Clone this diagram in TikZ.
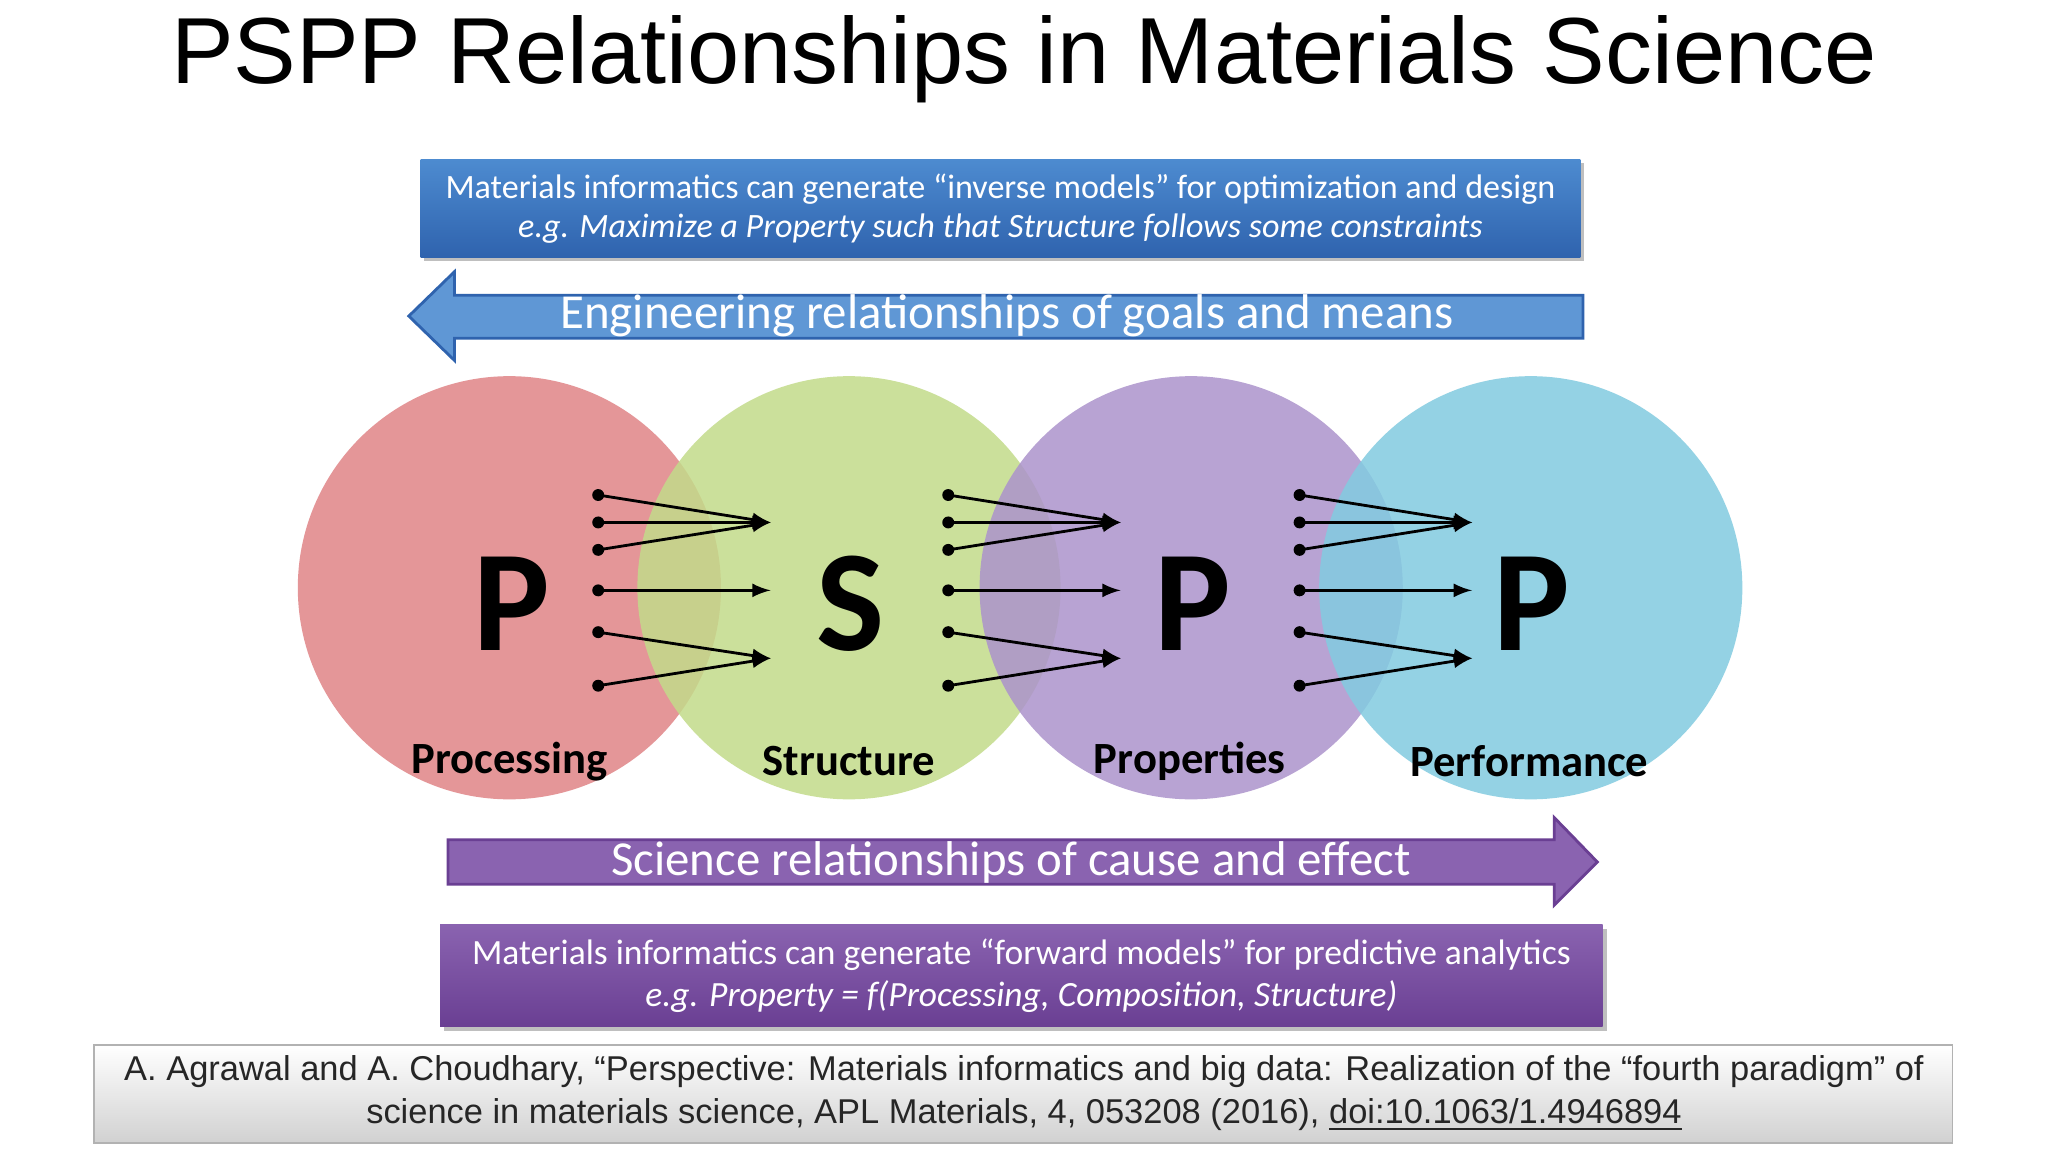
\documentclass[tikz,border=0pt]{standalone}
\usepackage{fontspec}
\setmainfont{Liberation Sans}
\newfontfamily\carfont{Carlito}
\usetikzlibrary{shapes.arrows,shadows}
\definecolor{bA}{HTML}{2F63AE}
\definecolor{bB}{HTML}{4D8BD0}
\definecolor{pA}{HTML}{6A3F93}
\definecolor{pB}{HTML}{8A63B0}
\definecolor{cR}{HTML}{E08486}
\definecolor{cG}{HTML}{C3DB8A}
\definecolor{cP}{HTML}{AC93CC}
\definecolor{cB}{HTML}{82CBE0}
\begin{document}
\begin{tikzpicture}[x=0.013061cm,y=-0.013061cm,
  txt/.style={text=white,font=\carfont\fontsize{9.7}{12}\selectfont,align=center},
  txtb/.style={text=white,font=\carfont\fontsize{10.1}{12}\selectfont,align=center},
  circ/.style={circle,minimum size=324*0.013061cm,inner sep=0,opacity=0.85},
  big/.style={font=\carfont\bfseries\fontsize{41}{43}\selectfont},
  lab/.style={font=\carfont\bfseries\fontsize{12.7}{14}\selectfont},
  con/.style={-latex,thick},
  dotc/.style={circle,fill=black,inner sep=1.2pt},
  arrtxt/.style={text=white,font=\carfont\fontsize{13.9}{15}\selectfont}]
\useasboundingbox (0,0) rectangle (1568,882);
\fill[white] (0,0) rectangle (1568,882);
\node (title) at (784,45) {\fontsize{26.7}{30}\selectfont PSPP Relationships in Materials Science};
% top box
\fill[black!25] (325,125) rectangle (1213,200);
\shade[top color=bB,bottom color=bA] (322,122) rectangle (1210,197);
\node[txt] (tb1) at (766,145) {Materials informatics can generate “inverse models” for optimization and design};
\node[txt] (tb2) at (766,175) {\itshape e.g. Maximize a Property such that Structure follows some constraints};
% left arrow
\filldraw[fill=bB!90,draw=bA,line width=0.8pt] (1212,226) -- (348,226) -- (348,208) -- (313,242) -- (348,276) -- (348,259) -- (1212,259) -- cycle;
\node[arrtxt] (la) at (771,242) {Engineering relationships of goals and means};
% circles
\node[circ,fill=cR] (c1) at (390,450) {};
\node[circ,fill=cG] (c2) at (650,450) {};
\node[circ,fill=cP] (c3) at (912,450) {};
\node[circ,fill=cB] (c4) at (1172,450) {};
\node[big] (l1) at (392,462) {P};
\node[big] (l2) at (651,462) {S};
\node[big] (l3) at (913,462) {P};
\node[big] (l4) at (1173,462) {P};
\node[lab] (n1) at (390,583) {Processing};
\node[lab] (n2) at (650,583) {Structure};
\node[lab] (n3) at (911,583) {Properties};
\node[lab] (n4) at (1171,583) {Performance};
% connectors
\foreach \g/\xs/\xe in {a/458/590,b/726/858,c/995/1127}{
  \coordinate (\g t1) at (\xe,400);
  \coordinate (\g t2) at (\xe,452);
  \coordinate (\g t3) at (\xe,504);
  \foreach \i/\y/\t in {1/379/1,2/400/1,3/421/1,4/452/2,5/484/3,6/525/3}{
    \node[dotc] (\g s\i) at (\xs,\y) {};
    \draw[con] (\g s\i.center) -- (\g t\t);
  }
}
% bottom arrow
\filldraw[fill=pB,draw=pA,line width=0.8pt] (343,643) -- (1190,643) -- (1190,626) -- (1223,660) -- (1190,693) -- (1190,677) -- (343,677) -- cycle;
\node[arrtxt] (ra) at (774,660) {Science relationships of cause and effect};
% bottom box
\fill[black!25] (340,711) rectangle (1230,789);
\shade[top color=pB,bottom color=pA] (337,708) rectangle (1227,786);
\node[txtb] (bb1) at (782,731) {Materials informatics can generate “forward models” for predictive analytics};
\node[txtb] (bb2) at (782,763) {\itshape e.g. Property = f(Processing, Composition, Structure)};
% citation
\shade[top color=white,bottom color=black!18,draw=black!30] (72,800) rectangle (1495,875);
\node[align=center,font=\fontsize{9.8}{12.3}\selectfont,text=black!85] (cit) at (784,837) {A. Agrawal and A. Choudhary, “Perspective: Materials informatics and big data: Realization of the “fourth paradigm” of\\science in materials science, APL Materials, 4, 053208 (2016), \underline{doi:10.1063/1.4946894}};
\end{tikzpicture}
\end{document}
